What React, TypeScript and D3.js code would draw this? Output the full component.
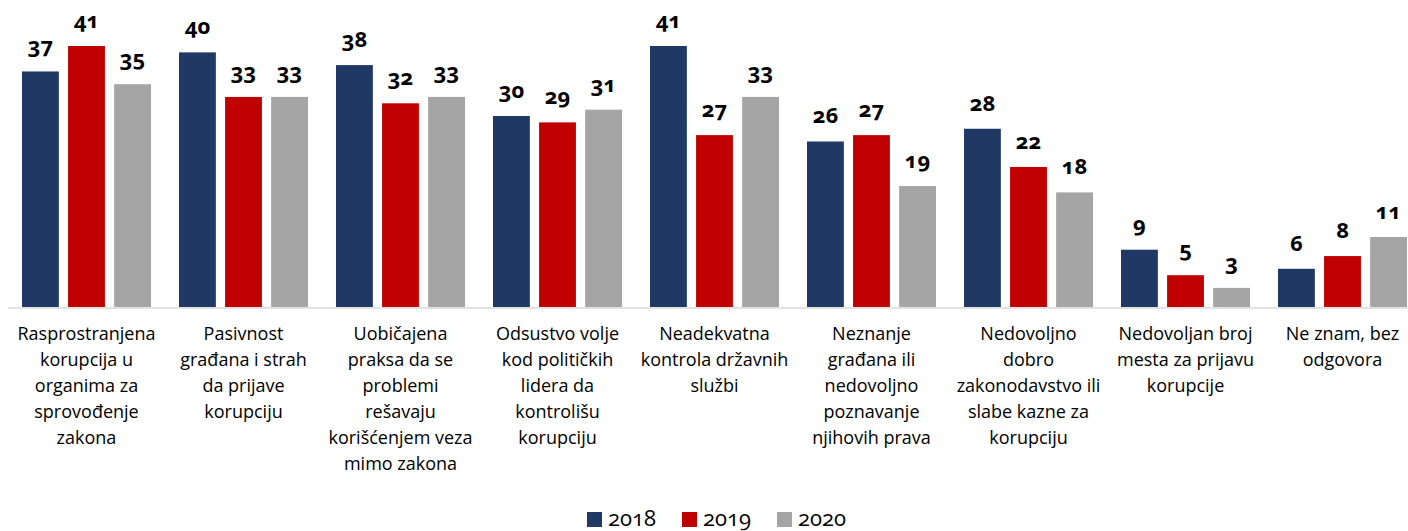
import React from "react";
import * as d3 from "d3";

const categories: string[][] = [
  ["Rasprostranjena", "korupcija u", "organima za", "sprovođenje", "zakona"],
  ["Pasivnost", "građana i strah", "da prijave", "korupciju"],
  ["Uobičajena", "praksa da se", "problemi", "rešavaju", "korišćenjem veza", "mimo zakona"],
  ["Odsustvo volje", "kod političkih", "lidera da", "kontrolišu", "korupciju"],
  ["Neadekvatna", "kontrola državnih", "službi"],
  ["Neznanje", "građana ili", "nedovoljno", "poznavanje", "njihovih prava"],
  ["Nedovoljno", "dobro", "zakonodavstvo ili", "slabe kazne za", "korupciju"],
  ["Nedovoljan broj", "mesta za prijavu", "korupcije"],
  ["Ne znam, bez", "odgovora"],
];
const seriesNames = ["2018", "2019", "2020"];
const v2018 = [37, 40, 38, 30, 41, 26, 28, 9, 6];
const v2019 = [41, 33, 32, 29, 27, 27, 22, 5, 8];
const v2020 = [35, 33, 33, 31, 33, 19, 18, 3, 11];
const colors = ["#203864", "#C00000", "#A5A5A5"];

const W = 1408;
const H = 531;
const baseY = 307;

export default function App() {
  const series = [v2018, v2019, v2020];
  const x0 = d3
    .scaleBand<number>()
    .domain(d3.range(categories.length))
    .range([8, 1421])
    .paddingInner(0)
    .paddingOuter(0);
  const x1 = d3
    .scaleBand<number>()
    .domain([0, 1, 2])
    .range([14, x0.bandwidth() - 14])
    .paddingInner(0.2)
    .paddingOuter(0);
  const y = d3.scaleLinear().domain([0, 41]).range([baseY, 46]);
  const font = "'Open Sans', 'Noto Sans', sans-serif";

  const legendX = [587, 682, 777];

  return (
    <svg
      width={W}
      height={H}
      style={{ position: "absolute", left: 0, top: 0, background: "#fff" }}
      fontFamily={font}
    >
      <rect x={0} y={0} width={W} height={H} fill="#fff" />
      {categories.map((lines, i) => (
        <g key={i} transform={`translate(${x0(i)},0)`}>
          {series.map((s, j) => {
            const bx = x1(j)!;
            const by = y(s[i]);
            return (
              <g key={j}>
                <rect
                  x={bx}
                  y={by}
                  width={x1.bandwidth()}
                  height={baseY - by}
                  fill={colors[j]}
                />
                <text
                  x={bx + x1.bandwidth() / 2}
                  y={by - 18}
                  textAnchor="middle"
                  fontSize={22}
                  fontWeight="bold"
                  fill="#000"
                  style={{ fontVariantNumeric: "oldstyle-nums" }}
                >
                  {s[i]}
                </text>
              </g>
            );
          })}
          {lines.map((ln, k) => (
            <text
              key={k}
              x={x0.bandwidth() / 2}
              y={340 + k * 26}
              textAnchor="middle"
              fontSize={18}
              fill="#000"
            >
              {ln}
            </text>
          ))}
        </g>
      ))}
      <line x1={8} x2={1408} y1={baseY + 1} y2={baseY + 1} stroke="#D9D9D9" strokeWidth={1.5} />
      {seriesNames.map((n, j) => (
        <g key={n}>
          <rect x={legendX[j]} y={512} width={15} height={15} fill={colors[j]} />
          <text
            x={legendX[j] + 21}
            y={526}
            fontSize={22}
            fill="#000"
            style={{ fontVariantNumeric: "oldstyle-nums" }}
          >
            {n}
          </text>
        </g>
      ))}
    </svg>
  );
}
